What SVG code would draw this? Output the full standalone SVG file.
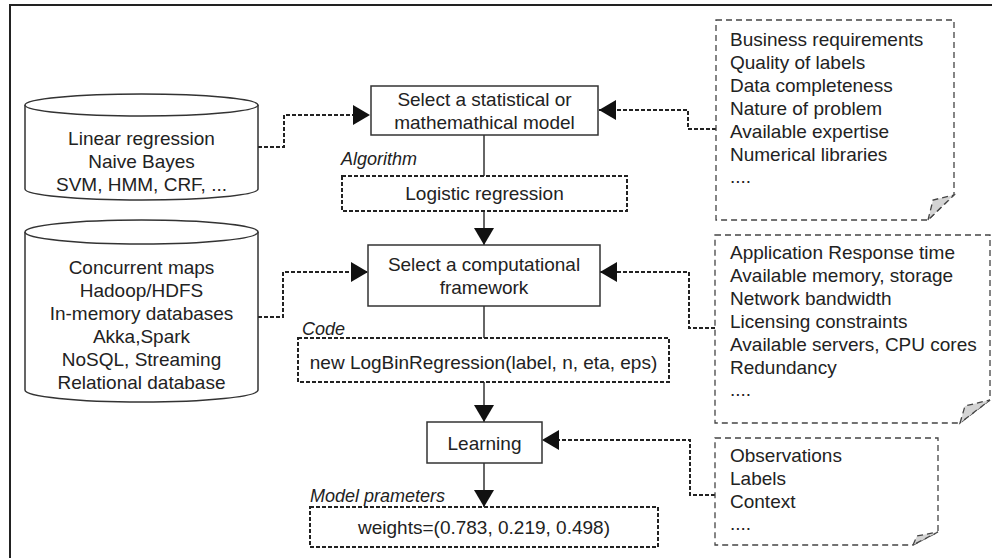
<svg xmlns="http://www.w3.org/2000/svg" width="992" height="558" viewBox="0 0 992 558">
<style>
text{font-family:"Liberation Sans",Arial,sans-serif;font-size:19px;fill:#222}
.c{text-anchor:middle}
.i{font-style:italic;font-size:18px}
.box{fill:#fff;stroke:#333;stroke-width:1.5}
.dbox{fill:#fff;stroke:#222;stroke-width:2;stroke-dasharray:4 2}
.note{fill:#fff;stroke:#444;stroke-width:1.3;stroke-dasharray:6 4}
.fold{fill:#d4d4d4;stroke:#444;stroke-width:1.3;stroke-dasharray:6 4}
.cyl{fill:#fff;stroke:#333;stroke-width:1.5}
.dc{fill:none;stroke:#222;stroke-width:2;stroke-dasharray:4 2}
.sc{fill:none;stroke:#333;stroke-width:1.5}
</style>
<defs>
<marker id="ah" markerUnits="userSpaceOnUse" markerWidth="18" markerHeight="22" refX="17" refY="10" orient="auto">
<path d="M0,0 L17,10 L0,20 Z" fill="#111"/>
</marker>
</defs>
<path d="M10,558 V5 H992" fill="none" stroke="#222" stroke-width="2"/>

<g id="connectors">
<path class="dc" d="M258,147 H284 V115 H370" marker-end="url(#ah)"/>
<path class="dc" d="M716,129 H688 V110 H599" marker-end="url(#ah)"/>
<path class="dc" d="M258,317 H283 V272 H368" marker-end="url(#ah)"/>
<path class="dc" d="M715,328 H689 V272 H600" marker-end="url(#ah)"/>
<path class="dc" d="M715,495 H690 V440 H542" marker-end="url(#ah)"/>
<path class="sc" d="M484,135 V176"/>
<path class="sc" d="M484,211 V245" marker-end="url(#ah)"/>
<path class="sc" d="M484,306 V338"/>
<path class="sc" d="M484,382 V422" marker-end="url(#ah)"/>
<path class="sc" d="M484,463 V507" marker-end="url(#ah)"/>
</g>

<g id="algorithms-db">
<path class="cyl" d="M25,105 V189 A116.5,11 0 0 0 258,189 V105"/>
<ellipse class="cyl" cx="141.5" cy="105" rx="116.5" ry="11"/>
<text class="c" x="141.5" y="145">Linear regression</text>
<text class="c" x="141.5" y="168">Naive Bayes</text>
<text class="c" x="141.5" y="191">SVM, HMM, CRF, ...</text>
</g>

<g id="frameworks-db">
<path class="cyl" d="M25,232 V390 A116.5,12 0 0 0 258,390 V232"/>
<ellipse class="cyl" cx="141.5" cy="232" rx="116.5" ry="12"/>
<text class="c" x="141.5" y="274">Concurrent maps</text>
<text class="c" x="141.5" y="297">Hadoop/HDFS</text>
<text class="c" x="141.5" y="320">In-memory databases</text>
<text class="c" x="141.5" y="343">Akka,Spark</text>
<text class="c" x="141.5" y="366">NoSQL, Streaming</text>
<text class="c" x="141.5" y="389">Relational database</text>
</g>

<g id="select-model">
<rect class="box" x="371" y="86" width="227" height="49"/>
<text class="c" x="484.5" y="106">Select a statistical or</text>
<text class="c" x="484.5" y="129">mathemathical model</text>
</g>

<g id="algorithm">
<text class="i" x="341" y="165">Algorithm</text>
<rect class="dbox" x="342" y="176" width="285" height="35"/>
<text class="c" x="484.5" y="200">Logistic regression</text>
</g>

<g id="select-framework">
<rect class="box" x="368" y="245" width="232" height="61"/>
<text class="c" x="484" y="271">Select a computational</text>
<text class="c" x="484" y="294">framework</text>
</g>

<g id="code">
<text class="i" x="302" y="335">Code</text>
<rect class="dbox" x="298" y="338" width="371" height="44"/>
<text class="c" x="483.5" y="369">new LogBinRegression(label, n, eta, eps)</text>
</g>

<g id="learning">
<rect class="box" x="427" y="422" width="115" height="41"/>
<text class="c" x="484.5" y="450">Learning</text>
</g>

<g id="model-parameters">
<text class="i" x="310" y="502">Model prameters</text>
<rect class="dbox" x="310" y="507" width="348" height="40"/>
<text class="c" x="484" y="534">weights=(0.783, 0.219, 0.498)</text>
</g>

<g id="note-model">
<path class="note" d="M716,20 H954 V195 L928,220 H716 Z"/>
<path class="fold" d="M928,220 L933,200 L954,195 Z"/>
<text x="730" y="46">Business requirements</text>
<text x="730" y="69">Quality of labels</text>
<text x="730" y="92">Data completeness</text>
<text x="730" y="115">Nature of problem</text>
<text x="730" y="138">Available expertise</text>
<text x="730" y="161">Numerical libraries</text>
<text x="730" y="183">....</text>
</g>

<g id="note-framework">
<path class="note" d="M715,235 H990 V400 L960,423 H715 Z"/>
<path class="fold" d="M960,423 L965,406 L990,400 Z"/>
<text x="730" y="259">Application Response time</text>
<text x="730" y="282">Available memory, storage</text>
<text x="730" y="305">Network bandwidth</text>
<text x="730" y="328">Licensing constraints</text>
<text x="730" y="351">Available servers, CPU cores</text>
<text x="730" y="374">Redundancy</text>
<text x="730" y="396">....</text>
</g>

<g id="note-learning">
<path class="note" d="M715,438 H938 V532 L913,545 H715 Z"/>
<path class="fold" d="M913,545 L917,536 L938,532 Z"/>
<text x="730" y="462">Observations</text>
<text x="730" y="485">Labels</text>
<text x="730" y="508">Context</text>
<text x="730" y="530">....</text>
</g>
</svg>
